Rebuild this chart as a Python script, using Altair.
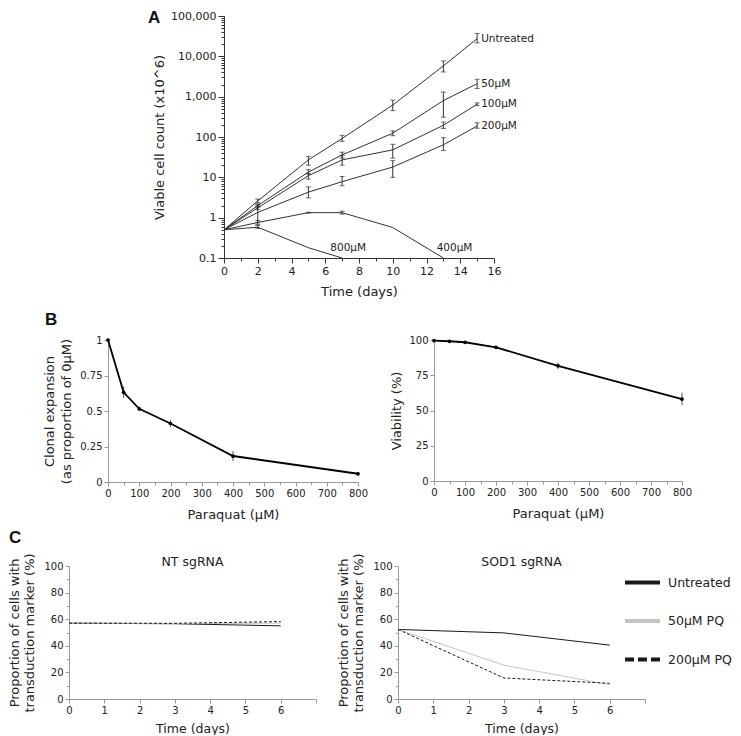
import altair as alt
import pandas as pd

FONT = "DejaVu Sans"
LFONT = "Liberation Sans"
INK = "#222222"

# ---------------- Panel A : viable cell count ----------------
A_DAYS = [0, 2, 5, 7, 10, 13, 15]
A_NAMES = ["Untreated", "50µM", "100µM", "200µM", "400µM", "800µM"]
A_UNTREATED = [0.5, 2.6, 27, 92, 620, 5800, 27500]
A_UNTREATED_LO = [0.5, 2.35, 20, 78, 450, 4100, 21500]
A_UNTREATED_HI = [0.5, 2.9, 33, 110, 820, 7700, 37000]
A_50 = [0.5, 2.0, 13.5, 36, 124, 800, 2100]
A_50_LO = [0.5, 1.8, 12, 30, 108, 310, 1600]
A_50_HI = [0.5, 2.2, 15.5, 42, 142, 1300, 2700]
A_100 = [0.5, 1.75, 11, 27, 48, 195, 650]
A_100_LO = [0.5, 1.6, 9, 20, 30, 162, 600]
A_100_HI = [0.5, 1.95, 12.5, 35, 66, 235, 700]
A_200 = [0.5, 1.35, 4.3, 7.8, 18, 64, 188]
A_200_LO = [0.5, 0.75, 3.1, 6.2, 10, 46, 165]
A_200_HI = [0.5, 2.1, 5.8, 10.5, 26, 96, 225]
A_400 = [0.5, 0.76, 1.33, 1.33, 0.57, 0.1]
A_400_LO = [0.5, 0.68, 1.3, 1.22, 0.57, 0.1]
A_400_HI = [0.5, 0.85, 1.36, 1.45, 0.57, 0.1]
A_800 = [0.5, 0.58, 0.18, 0.1]
A_800_LO = [0.5, 0.54, 0.18, 0.1]
A_800_HI = [0.5, 0.64, 0.18, 0.1]
A_NOTE_TEXT = ["800µM", "400µM"]
A_NOTE_DAY = [6.3, 12.6]
A_NOTE_VALUE = [0.175, 0.175]

# ---------------- Panel B : clonal expansion / viability ----------------
B_CONC = [0, 50, 100, 200, 400, 800]
B_CLONAL = [1.0, 0.632, 0.515, 0.412, 0.183, 0.058]
B_CLONAL_ERR = [0.0, 0.04, 0.015, 0.025, 0.035, 0.012]
B_VIAB = [99.6, 99.1, 98.4, 94.8, 81.7, 58.1]
B_VIAB_ERR = [0.4, 0.4, 0.6, 1.0, 2.3, 4.5]

# ---------------- Panel C : transduction marker ----------------
C_DAYS = [0, 3, 6]
C_CONDS = ["Untreated", "50µM PQ", "200µM PQ"]
C_NT_UNTREATED = [57.0, 56.6, 55.0]
C_NT_50 = [57.0, 56.8, 57.0]
C_NT_200 = [57.0, 56.9, 58.2]
C_SOD1_UNTREATED = [52.3, 49.7, 40.5]
C_SOD1_50 = [52.3, 25.4, 10.8]
C_SOD1_200 = [52.3, 15.8, 11.8]

# ---------------- tables ----------------
rows = []
for name, m, lo, hi in zip(
    A_NAMES,
    [A_UNTREATED, A_50, A_100, A_200, A_400, A_800],
    [A_UNTREATED_LO, A_50_LO, A_100_LO, A_200_LO, A_400_LO, A_800_LO],
    [A_UNTREATED_HI, A_50_HI, A_100_HI, A_200_HI, A_400_HI, A_800_HI],
):
    for d, v, l, h in zip(A_DAYS, m, lo, hi):
        rows.append({"series": name, "day": d, "value": v, "lo": l, "hi": h})
dfA = pd.DataFrame(rows)
dfA_err = dfA[dfA["hi"] > dfA["lo"]]
dfA_end = dfA[dfA["series"].isin(A_NAMES[:4]) & (dfA["day"] == A_DAYS[-1])]
dfA_note = pd.DataFrame({"text": A_NOTE_TEXT, "day": A_NOTE_DAY, "value": A_NOTE_VALUE})

dfB1 = pd.DataFrame({"conc": B_CONC, "v": B_CLONAL, "e": B_CLONAL_ERR})
dfB1["lo"] = dfB1["v"] - dfB1["e"]
dfB1["hi"] = dfB1["v"] + dfB1["e"]
dfB2 = pd.DataFrame({"conc": B_CONC, "v": B_VIAB, "e": B_VIAB_ERR})
dfB2["lo"] = dfB2["v"] - dfB2["e"]
dfB2["hi"] = dfB2["v"] + dfB2["e"]


def c_table(series_list):
    r = []
    for cond, vals in zip(C_CONDS, series_list):
        for d, v in zip(C_DAYS, vals):
            r.append({"cond": cond, "day": d, "v": v})
    return pd.DataFrame(r)


dfC_nt = c_table([C_NT_UNTREATED, C_NT_50, C_NT_200])
dfC_sod = c_table([C_SOD1_UNTREATED, C_SOD1_50, C_SOD1_200])


# ---------------- helpers ----------------
def axis_layers(df, xf, yf, xs, ys, xmaj, xmin, ymaj, ymin):
    major = alt.Chart(df).mark_point(opacity=0).encode(
        x=alt.X(xf, type="quantitative", scale=xs, axis=xmaj),
        y=alt.Y(yf, type="quantitative", scale=ys, axis=ymaj),
    )
    minor = alt.Chart(df).mark_point(opacity=0).encode(
        x=alt.X(xf, type="quantitative", scale=xs, axis=xmin),
        y=alt.Y(yf, type="quantitative", scale=ys, axis=ymin),
    )
    return [major, minor]


def spacer(t, x, y, w, h, top, bottom):
    """Left-hand cell of a row: panel letter plus a white anchor line that fixes the row's extent."""
    base = alt.Chart(pd.DataFrame({"t": [t]}))
    anchor = base.mark_rule(color="white", strokeWidth=1).encode(
        x=alt.value(0), y=alt.value(top), y2=alt.value(bottom))
    txt = base.mark_text(align="left", baseline="top", font=LFONT, fontSize=17,
                         fontWeight="bold", color="#111111").encode(
        text="t:N", x=alt.value(x), y=alt.value(y))
    return alt.layer(anchor, txt).properties(width=w, height=h)


def blank(w, h):
    return (
        alt.Chart(pd.DataFrame({"t": [""]}))
        .mark_text()
        .encode(text="t:N")
        .properties(width=w, height=h)
    )


# ---------------- Panel A chart ----------------
AC = "#333333"
xsA = alt.Scale(domain=[0, 16], nice=False, zero=False)
ysA = alt.Scale(type="log", domain=[0.1, 100000], nice=False)
y_minor_vals = [d * k for d in [0.1, 1, 10, 100, 1000, 10000] for k in range(2, 10)]

xA = alt.X("day:Q", scale=xsA, axis=None)
linesA = alt.Chart(dfA).mark_line(color=AC, strokeWidth=1).encode(
    x=xA, y=alt.Y("value:Q", scale=ysA, axis=None), detail="series:N")
ruleA = alt.Chart(dfA_err).mark_rule(color=AC, strokeWidth=1).encode(
    x=xA, y=alt.Y("lo:Q", scale=ysA, axis=None), y2="hi:Q")
capLoA = alt.Chart(dfA_err).mark_tick(orient="horizontal", size=5, thickness=1, color=AC).encode(
    x=xA, y=alt.Y("lo:Q", scale=ysA, axis=None))
capHiA = alt.Chart(dfA_err).mark_tick(orient="horizontal", size=5, thickness=1, color=AC).encode(
    x=xA, y=alt.Y("hi:Q", scale=ysA, axis=None))
endA = alt.Chart(dfA_end).mark_text(align="left", baseline="middle", dx=4, font=FONT,
                                     fontSize=10.5, color=INK).encode(
    x=xA, y=alt.Y("value:Q", scale=ysA, axis=None), text="series:N")
noteA = alt.Chart(dfA_note).mark_text(align="left", baseline="middle", font=FONT,
                                       fontSize=10.5, color=INK).encode(
    x=xA, y=alt.Y("value:Q", scale=ysA, axis=None), text="text:N")

axA = axis_layers(
    dfA, "day", "value", xsA, ysA,
    alt.Axis(orient="bottom", values=list(range(0, 17, 2)), tickSize=5, labelFontSize=11,
             labelPadding=2, labelFlush=False, labelOverlap=False, title="Time (days)",
             titleFontSize=13, titlePadding=9, domainColor=AC, tickColor=AC),
    alt.Axis(orient="bottom", values=list(range(1, 16, 2)), tickSize=3, labels=False,
             domain=False, tickColor=AC, title=None),
    alt.Axis(orient="left", values=[0.1, 1, 10, 100, 1000, 10000, 100000], format=",",
             tickSize=6, labelFontSize=11, labelPadding=2, labelOverlap=False,
             title="Viable cell count (x10^6)", titleFontSize=13, titlePadding=4,
             domainColor=AC, tickColor=AC),
    alt.Axis(orient="left", values=y_minor_vals, tickSize=3, labels=False, domain=False,
             tickColor=AC, title=None),
)
panelA = alt.layer(linesA, ruleA, capLoA, capHiA, endA, noteA, *axA).resolve_axis(
    x="independent", y="independent").properties(width=270, height=242)

# ---------------- Panel B charts ----------------
GREY = "#9a9a9a"
xsB = alt.Scale(domain=[0, 800], nice=False, zero=False)


def panel_b(df, ys, yvals, yfmt, ytitle, tpad, tlh):
    xB = alt.X("conc:Q", scale=xsB, axis=None)
    yB = alt.Y("v:Q", scale=ys, axis=None)
    err = alt.Chart(df).mark_rule(color="#555555", strokeWidth=1).encode(
        x=xB, y=alt.Y("lo:Q", scale=ys, axis=None), y2="hi:Q")
    line = alt.Chart(df).mark_line(color="#000000", strokeWidth=1.8).encode(x=xB, y=yB)
    pts = alt.Chart(df).mark_circle(color="#000000", size=14, opacity=1).encode(x=xB, y=yB)
    ax = axis_layers(
        df, "conc", "v", xsB, ys,
        alt.Axis(orient="bottom", values=list(range(0, 801, 100)), tickSize=4,
                 labelFontSize=10, labelPadding=2, labelFlush=False, labelOverlap=False,
                 title="Paraquat (µM)", titleFontSize=13, titlePadding=10,
                 domainColor=GREY, tickColor=GREY),
        alt.Axis(orient="bottom", values=list(range(50, 800, 100)), tickSize=3,
                 labels=False, domain=False, tickColor=GREY, title=None),
        alt.Axis(orient="left", values=yvals, format=yfmt, tickSize=4, labelFontSize=10,
                 labelPadding=2, labelOverlap=False, title=ytitle, titleFontSize=13,
                 titlePadding=tpad, titleLineHeight=tlh, domainColor=GREY, tickColor=GREY),
        None,
    )
    return alt.layer(err, line, pts, *ax).resolve_axis(x="independent", y="independent")


panelB1 = panel_b(dfB1, alt.Scale(domain=[0, 1], nice=False, zero=False),
                  [0, 0.25, 0.5, 0.75, 1], ".2~f",
                  ["Clonal expansion", "(as proportion of 0µM)"], 6, 17
                  ).properties(width=250, height=142)
panelB2 = panel_b(dfB2, alt.Scale(domain=[0, 100], nice=False, zero=False),
                  [0, 25, 50, 75, 100], "d", "Viability (%)", 5, 17
                  ).properties(width=248, height=141)

# ---------------- Panel C charts ----------------
C_W, C_H = 247, 133
xsC = alt.Scale(domain=[0, 7], nice=False, zero=False)
ysC = alt.Scale(domain=[0, 100], nice=False, zero=False)
cscale = alt.Scale(domain=C_CONDS, range=["#1a1a1a", "#c4c4c4", "#1a1a1a"])
dscale = alt.Scale(domain=C_CONDS, range=[[1, 0], [1, 0], [9, 4]])


def panel_c(df, title, legend):
    xC = alt.X("day:Q", scale=xsC, axis=None)
    yC = alt.Y("v:Q", scale=ysC, axis=None)
    col = alt.Color("cond:N", scale=cscale, legend=legend)
    solid = alt.Chart(df).transform_filter("datum.cond != '200µM PQ'").mark_line(
        strokeWidth=1).encode(x=xC, y=yC, color=col)
    dashed = alt.Chart(df).transform_filter("datum.cond == '200µM PQ'").mark_line(
        strokeWidth=1, strokeDash=[3, 2]).encode(x=xC, y=yC, color=col)
    head = alt.Chart(pd.DataFrame({"t": [title]})).mark_text(
        align="center", baseline="middle", font=FONT, fontSize=12.5, color=INK).encode(
        text="t:N", x=alt.value(C_W / 2), y=alt.value(-4.5))
    layers = [solid, dashed, head]
    if legend is not None:
        key = alt.Chart(df).transform_filter("datum.day > 100").mark_line(
            strokeWidth=1).encode(
            x=xC, y=yC, color=col,
            strokeDash=alt.StrokeDash("cond:N", scale=dscale, legend=legend))
        layers.append(key)
    ax = axis_layers(
        df, "day", "v", xsC, ysC,
        alt.Axis(orient="bottom", values=list(range(0, 8)), tickSize=4,
                 labelExpr="datum.value < 7 ? datum.label : ''",
                 labelFontSize=10, labelPadding=2, labelFlush=False, labelOverlap=False,
                 title="Time (days)", titleFontSize=12.5, titlePadding=7,
                 domainColor=GREY, tickColor=GREY),
        None,
        alt.Axis(orient="left", values=list(range(0, 101, 20)), tickSize=4,
                 labelFontSize=10, labelPadding=2, labelOverlap=False,
                 title=["Proportion of cells with", "transduction marker (%)"],
                 titleFontSize=13, titlePadding=7, titleLineHeight=15,
                 domainColor=GREY, tickColor=GREY),
        alt.Axis(orient="left", values=list(range(10, 100, 20)), tickSize=2.5,
                 labels=False, domain=False, tickColor=GREY, title=None),
    )
    return alt.layer(*layers, *ax).resolve_axis(
        x="independent", y="independent").properties(width=C_W, height=C_H)


legC = alt.Legend(
    title=None, orient="none", legendX=225, legendY=-3, symbolType="stroke",
    symbolStrokeWidth=4, symbolSize=1225, labelFont=FONT, labelFontSize=12.5,
    labelColor=INK, labelOffset=6, rowPadding=10.5, padding=0,
)
panelC1 = panel_c(dfC_nt, "NT sgRNA", None)
panelC2 = panel_c(dfC_sod, "SOD1 sgRNA", legC)

# ---------------- layout ----------------
rowA = alt.HConcatChart(
    hconcat=[spacer("A", 139, -6.5, 215, 1, -6, 292), panelA],
    spacing=0, bounds="flush")
rowB = alt.HConcatChart(
    hconcat=[spacer("B", 36, -28, 99, 1, -30, 188), panelB1, blank(76, 1), panelB2],
    spacing=0, bounds="flush")
rowC = alt.HConcatChart(
    hconcat=[spacer("C", 0, -36, 60, 1, -36, 150), panelC1, blank(82, 1), panelC2],
    spacing=0, bounds="flush",
).resolve_scale(color="independent", strokeDash="independent").resolve_legend(
    color="independent", strokeDash="independent")

chart = alt.VConcatChart(
    vconcat=[rowA, rowB, rowC], spacing=0, padding=0, background="white",
).resolve_scale(color="independent", strokeDash="independent").resolve_legend(
    color="independent", strokeDash="independent").configure_view(
    strokeWidth=0
).configure_axis(
    labelFont=FONT, titleFont=FONT, labelColor=INK, titleColor=INK,
    titleFontWeight="normal", grid=False,
)

chart.save("out.html", embed_options={"renderer": "svg", "actions": False})
